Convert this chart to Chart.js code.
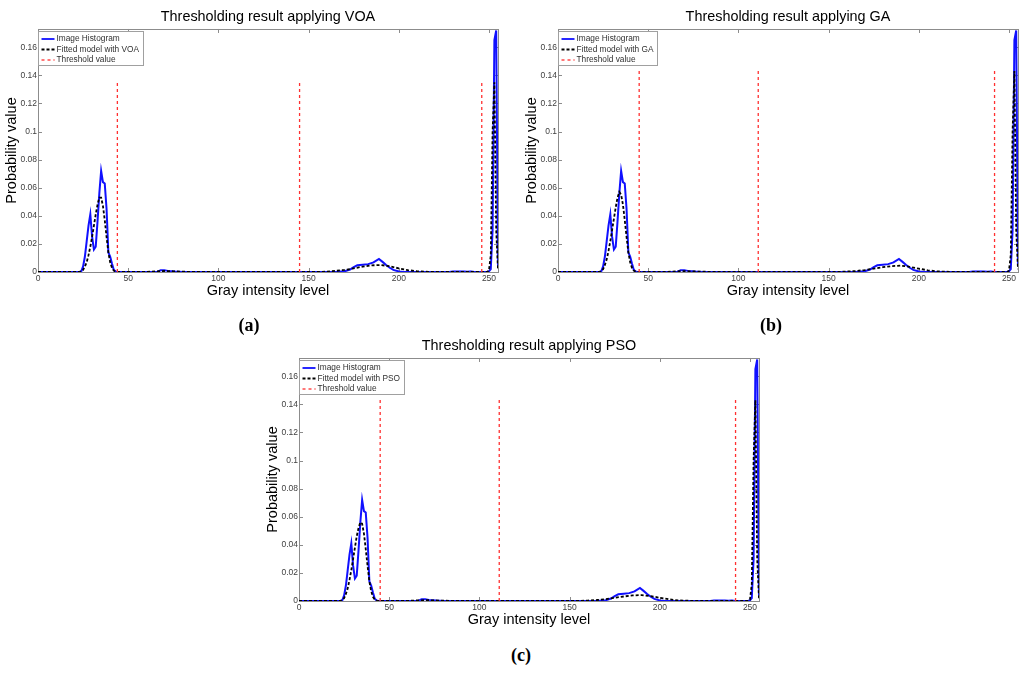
<!DOCTYPE html>
<html>
<head>
<meta charset="utf-8">
<script src="https://cdn.jsdelivr.net/npm/chart.js@4.4.1/dist/chart.umd.min.js"></script>
<style>
  html, body { margin: 0; padding: 0; background: #fff; }
  body { width: 1024px; height: 674px; position: relative; overflow: hidden; }
  canvas { position: absolute; }
  .tag { position: absolute; width: 60px; text-align: center; font: bold 18px 'Liberation Serif', 'Times New Roman', serif; color: #000; line-height: 22px; }
</style>
</head>
<body>
<canvas id="voa" width="504" height="300" style="left:0;top:0"></canvas>
<canvas id="ga" width="504" height="300" style="left:520px;top:0"></canvas>
<canvas id="pso" width="504" height="300" style="left:261px;top:329px"></canvas>
<div class="tag" style="left:219px;top:314px">(a)</div>
<div class="tag" style="left:741px;top:314px">(b)</div>
<div class="tag" style="left:491px;top:644px">(c)</div>
<script>
// gray levels / probabilities
const histLevels = [0, 23, 24, 25, 26, 27, 28, 29, 30, 31, 32, 33, 34, 35, 36, 37, 38, 39, 40, 41, 42, 43, 44,
  60, 66, 68, 70, 72, 76, 80,
  165, 170, 173, 175, 177, 180, 183, 186, 189, 191, 193, 195, 197, 200, 203,
  228, 230, 236, 238, 240, 242,
  249, 250, 251, 252, 253, 254, 255];
const histValues = [0, 0, 0.0005, 0.004, 0.011, 0.022, 0.033, 0.041, 0.025, 0.016, 0.018, 0.036, 0.056, 0.072, 0.064, 0.063, 0.045, 0.014, 0.011, 0.006, 0.0016, 0.0004, 0,
  0, 0, 0.0012, 0.0012, 0.0008, 0.0003, 0,
  0, 0.0005, 0.0018, 0.0035, 0.0048, 0.0052, 0.0056, 0.0068, 0.0093, 0.0072, 0.005, 0.003, 0.0015, 0.0004, 0,
  0, 0.0003, 0.0003, 0.0001, 0.0003, 0,
  0, 0.0005, 0.002, 0.03, 0.165, 0.172, 0.004];

const fitLevels = [0, 23, 24, 25, 26, 27, 28, 29, 30, 31, 32, 33, 34, 35, 36, 37, 38, 39, 40, 41, 42, 43, 44,
  60, 65, 70, 75, 80, 90,
  150, 155, 160, 165, 170, 175, 180, 185, 190, 195, 200, 205, 210, 215, 220,
  249, 250, 251, 252, 253, 254, 255];
const fitVOA = [0, 0, 0.0005, 0.0015, 0.004, 0.007, 0.012, 0.018, 0.025, 0.033, 0.041, 0.048, 0.053, 0.053, 0.047, 0.037, 0.025, 0.014, 0.007, 0.003, 0.001, 0.0003, 0,
  0, 0.0004, 0.0007, 0.0005, 0.0002, 0,
  0, 0, 0.0003, 0.0008, 0.0015, 0.0026, 0.0038, 0.0047, 0.005, 0.0041, 0.0026, 0.0013, 0.0006, 0.0002, 0,
  0, 0.001, 0.012, 0.1, 0.135, 0.03, 0.002];
const fitGA = [0, 0, 0.0008, 0.002, 0.005, 0.009, 0.015, 0.022, 0.03, 0.038, 0.046, 0.053, 0.057, 0.055, 0.048, 0.037, 0.025, 0.014, 0.007, 0.003, 0.001, 0.0003, 0,
  0, 0.0004, 0.0006, 0.0004, 0.0002, 0,
  0, 0, 0.0003, 0.0007, 0.0014, 0.0024, 0.0034, 0.0042, 0.0045, 0.0037, 0.0024, 0.0012, 0.0005, 0.0002, 0,
  0, 0.001, 0.012, 0.1, 0.143, 0.03, 0.002];
const fitPSO = [0, 0, 0.0008, 0.002, 0.005, 0.009, 0.015, 0.022, 0.03, 0.038, 0.046, 0.052, 0.056, 0.055, 0.048, 0.037, 0.025, 0.014, 0.007, 0.003, 0.001, 0.0003, 0,
  0, 0.0004, 0.0006, 0.0004, 0.0002, 0,
  0, 0, 0.0003, 0.0007, 0.0013, 0.0023, 0.0032, 0.004, 0.0042, 0.0035, 0.0023, 0.0012, 0.0005, 0.0002, 0,
  0, 0.001, 0.012, 0.1, 0.143, 0.03, 0.002];

const thrVOA = [44, 145, 246];
const thrGA = [45, 111, 242];
const thrPSO = [45, 111, 242];
const thrTopVOA = 0.135;
const thrTopGA = 0.143;
const thrTopPSO = 0.143;

const xTicks = [0, 50, 100, 150, 200, 250];
const yTicks = [0, 0.02, 0.04, 0.06, 0.08, 0.1, 0.12, 0.14, 0.16];

const SANS = "'Liberation Sans', Arial, Helvetica, sans-serif";
const BLUE = '#1010ff';
const RED = '#ff3030';
const FRAME = '#8c8c8c';
const TICK = '#404040';

function points(xs, ys) { return xs.map((x, i) => ({ x, y: ys[i] })); }
function thresholdPoints(ts, top) {
  const out = [];
  ts.forEach(t => out.push({ x: t, y: 0 }, { x: t, y: top }, { x: t, y: null }));
  return out;
}

// MATLAB-like box with inward ticks, and the boxed legend in the upper left
const matlabAxes = {
  id: 'matlabAxes',
  beforeDatasetsDraw(chart) {
    const { ctx, chartArea: a, scales: { x, y } } = chart;
    ctx.save();
    ctx.strokeStyle = FRAME;
    ctx.lineWidth = 1;
    ctx.strokeRect(Math.round(a.left) + 0.5, Math.round(a.top) + 0.5, Math.round(a.right - a.left), Math.round(a.bottom - a.top));
    ctx.beginPath();
    x.ticks.forEach(t => {
      const px = Math.round(x.getPixelForValue(t.value)) + 0.5;
      ctx.moveTo(px, a.bottom); ctx.lineTo(px, a.bottom - 4);
      ctx.moveTo(px, a.top); ctx.lineTo(px, a.top + 4);
    });
    y.ticks.forEach(t => {
      const py = Math.round(y.getPixelForValue(t.value)) + 0.5;
      ctx.moveTo(a.left, py); ctx.lineTo(a.left + 4, py);
      ctx.moveTo(a.right, py); ctx.lineTo(a.right - 4, py);
    });
    ctx.stroke();
    ctx.restore();
  },
  afterDatasetsDraw(chart) {
    const { ctx, chartArea: a } = chart;
    const sets = chart.data.datasets;
    ctx.save();
    ctx.font = '8.3px ' + SANS;
    const w = Math.round(Math.max(...sets.map(d => ctx.measureText(d.label).width)) + 22);
    const bx = Math.round(a.left) + 0.5, by = Math.round(a.top) + 2.5, bh = 34;
    ctx.fillStyle = '#fff';
    ctx.fillRect(bx, by, w, bh);
    ctx.strokeStyle = '#a0a0a0';
    ctx.lineWidth = 1;
    ctx.strokeRect(bx, by, w, bh);
    sets.forEach((d, i) => {
      const ry = by + 7.5 + i * 10.5;
      ctx.beginPath();
      ctx.strokeStyle = d.borderColor;
      ctx.lineWidth = Math.min(d.borderWidth, 1.8);
      ctx.setLineDash(d.borderDash || []);
      ctx.moveTo(bx + 3, ry); ctx.lineTo(bx + 16, ry);
      ctx.stroke();
      ctx.setLineDash([]);
      ctx.fillStyle = '#303030';
      ctx.textBaseline = 'middle';
      ctx.fillText(d.label, bx + 18, ry);
    });
    ctx.restore();
  }
};

function makeChart(id, method, fitValues, thresholds, thrTop) {
  return new Chart(document.getElementById(id), {
    type: 'line',
    data: {
      datasets: [{
        label: 'Image Histogram',
        data: points(histLevels, histValues),
        borderColor: BLUE, borderWidth: 2, pointRadius: 0, order: 3
      }, {
        label: 'Fitted model with ' + method,
        data: points(fitLevels, fitValues),
        borderColor: '#000', borderWidth: 1.8, borderDash: [3, 2], pointRadius: 0, order: 2
      }, {
        label: 'Threshold value',
        data: thresholdPoints(thresholds, thrTop),
        borderColor: RED, borderWidth: 1.3, borderDash: [3, 3], pointRadius: 0, order: 1, spanGaps: false
      }]
    },
    options: {
      responsive: false, animation: false,
      layout: { padding: { top: 0, right: 6, bottom: 0, left: 0 } },
      plugins: {
        legend: { display: false },
        tooltip: { enabled: false },
        title: {
          display: true, fullSize: false,
          text: 'Thresholding result applying ' + method,
          color: '#000', font: { family: SANS, size: 14.4, weight: 'normal' },
          padding: { top: 8, bottom: 3.7 }
        }
      },
      scales: {
        x: {
          type: 'linear', min: 0, max: 255,
          grid: { display: false, drawTicks: false }, border: { display: false },
          afterBuildTicks: s => { s.ticks = xTicks.map(v => ({ value: v })); },
          afterFit: s => { s.height = 28; },
          ticks: { font: { family: SANS, size: 8.5 }, color: TICK, padding: 2, maxRotation: 0, autoSkip: false },
          title: { display: true, text: 'Gray intensity level', color: '#000', font: { family: SANS, size: 14.5 }, padding: { top: 0, bottom: 0 } }
        },
        y: {
          type: 'linear', min: 0, max: 0.173,
          grid: { display: false, drawTicks: false }, border: { display: false },
          afterBuildTicks: s => { s.ticks = yTicks.map(v => ({ value: v })); },
          afterFit: s => { s.width = 38; },
          ticks: { font: { family: SANS, size: 8.5 }, color: TICK, padding: 1, autoSkip: false, callback: v => String(+v.toFixed(2)) },
          title: { display: true, text: 'Probability value', color: '#000', font: { family: SANS, size: 14.5 }, padding: { top: 3, bottom: 0 } }
        }
      }
    },
    plugins: [matlabAxes]
  });
}

makeChart('voa', 'VOA', fitVOA, thrVOA, thrTopVOA);
makeChart('ga', 'GA', fitGA, thrGA, thrTopGA);
makeChart('pso', 'PSO', fitPSO, thrPSO, thrTopPSO);
</script>
</body>
</html>
